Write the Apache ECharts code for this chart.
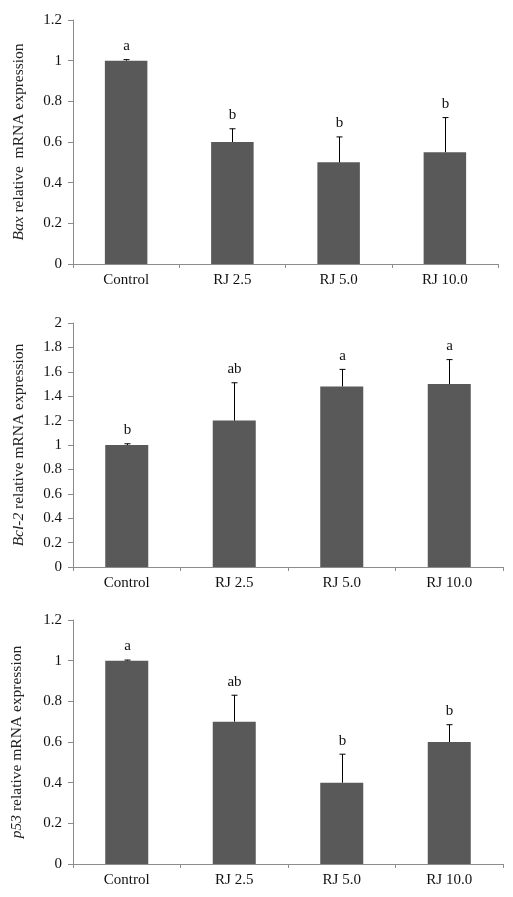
<!DOCTYPE html>
<html>
<head>
<meta charset="utf-8">
<script src="https://cdn.jsdelivr.net/npm/echarts@6/dist/echarts.min.js"></script>
<style>html,body{margin:0;padding:0;background:#fff}#c{width:513px;height:897px}</style>
</head>
<body>
<div id="c"></div>
<script>
var categories = ['Control', 'RJ 2.5', 'RJ 5.0', 'RJ 10.0'];

var baxMean = [1.0, 0.6, 0.5, 0.55];
var baxErr = [0.005, 0.065, 0.125, 0.17];
var baxLetters = ['a', 'b', 'b', 'b'];

var bcl2Mean = [1.0, 1.2, 1.48, 1.5];
var bcl2Err = [0.01, 0.31, 0.14, 0.2];
var bcl2Letters = ['b', 'ab', 'a', 'a'];

var p53Mean = [1.0, 0.7, 0.4, 0.6];
var p53Err = [0.003, 0.13, 0.14, 0.085];
var p53Letters = ['a', 'ab', 'b', 'b'];

var yMax = [1.2, 2, 1.2];
var geneNames = ['Bax', 'Bcl-2', 'p53'];
var nameRest = [' relative  mRNA expression', ' relative mRNA expression', ' relative mRNA expression'];

var FONT = 'Liberation Serif';
var panels = [
  {mean: baxMean, err: baxErr, letters: baxLetters},
  {mean: bcl2Mean, err: bcl2Err, letters: bcl2Letters},
  {mean: p53Mean, err: p53Err, letters: p53Letters}
];
var grids = [
  {left: 73, top: 20, right: 15, height: 244},
  {left: 73, top: 323, right: 10, height: 244},
  {left: 73, top: 620, right: 10, height: 244}
];
var nameGaps = [46, 46, 48];

var xAxes = [], yAxes = [], series = [];
panels.forEach(function (p, k) {
  xAxes.push({
    type: 'category', gridIndex: k, data: categories,
    axisLine: {lineStyle: {color: '#8c8c8c', width: 1}},
    axisTick: {show: true, interval: 0, length: 4, lineStyle: {color: '#8c8c8c'}},
    axisLabel: {color: '#111', fontFamily: FONT, fontSize: 15, margin: 9}
  });
  yAxes.push({
    type: 'value', gridIndex: k, min: 0, max: yMax[k], interval: 0.2,
    splitLine: {show: false},
    axisLine: {show: true, lineStyle: {color: '#8c8c8c', width: 1}},
    axisTick: {show: true, length: 5, lineStyle: {color: '#8c8c8c'}},
    axisLabel: {color: '#111', fontFamily: FONT, fontSize: 15, margin: 11},
    name: '{i|' + geneNames[k] + '}{r|' + nameRest[k] + '}',
    nameLocation: 'middle', nameGap: nameGaps[k], nameRotate: 90,
    nameTextStyle: {
      rich: {
        i: {fontFamily: FONT, fontSize: 15.5, fontStyle: 'italic', color: '#222'},
        r: {fontFamily: FONT, fontSize: 15.5, color: '#222'}
      }
    }
  });
  series.push({
    type: 'bar', xAxisIndex: k, yAxisIndex: k, data: p.mean,
    barWidth: '40%', itemStyle: {color: '#595959'}, silent: true, z: 2
  });
  var cdata = p.mean.map(function (m, i) { return [i, m, m + p.err[i]]; });
  series.push({
    type: 'custom', xAxisIndex: k, yAxisIndex: k, data: cdata, z: 3, silent: true,
    renderItem: (function (letters) {
      return function (params, api) {
        var idx = api.value(0);
        var base = api.coord([idx, api.value(1)]);
        var top = api.coord([idx, api.value(2)]);
        var x = Math.round(base[0]) + 0.5;
        return {
          type: 'group',
          children: [
            {type: 'line', shape: {x1: x, y1: base[1], x2: x, y2: top[1]}, style: {stroke: '#000', lineWidth: 1}},
            {type: 'line', shape: {x1: x - 3, y1: top[1], x2: x + 3, y2: top[1]}, style: {stroke: '#000', lineWidth: 1}},
            {type: 'text', style: {x: x, y: top[1] - 6, text: letters[params.dataIndex], fill: '#111',
              font: '15px "' + FONT + '"', textAlign: 'center', textVerticalAlign: 'bottom'}}
          ]
        };
      };
    })(p.letters)
  });
});

var chart = echarts.init(document.getElementById('c'), null, {renderer: 'canvas'});
chart.setOption({
  animation: false,
  backgroundColor: '#fff',
  grid: grids,
  xAxis: xAxes,
  yAxis: yAxes,
  series: series
});
</script>
</body>
</html>
